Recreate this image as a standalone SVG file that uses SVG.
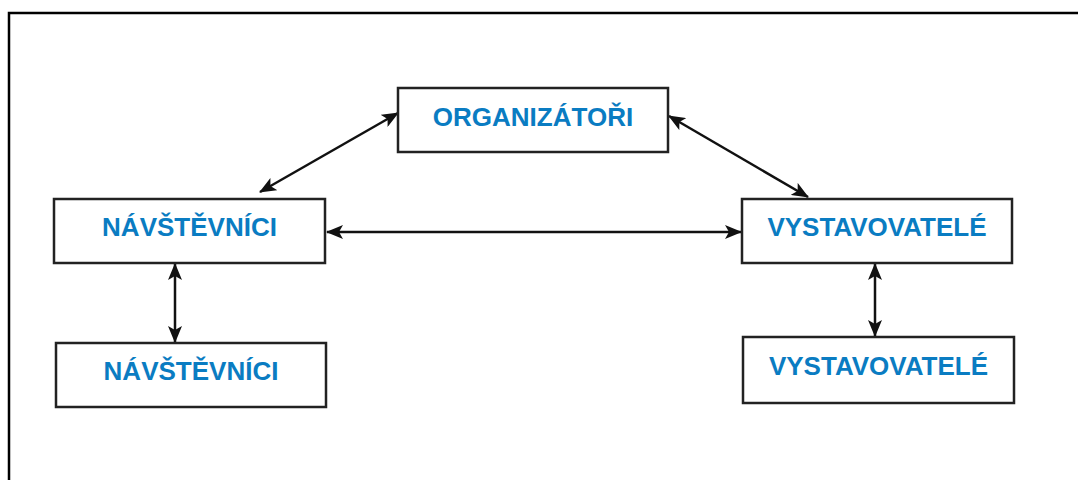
<svg xmlns="http://www.w3.org/2000/svg" width="1078" height="480" viewBox="0 0 1078 480">
<style>
.box{fill:#fff;stroke:#222;stroke-width:2.5}
.lbl{font-family:"Liberation Sans",Arial,sans-serif;font-weight:bold;font-size:26px;fill:#0a7cc2;text-anchor:middle}
.con{stroke:#111;stroke-width:2.5;fill:none;marker-start:url(#ah);marker-end:url(#ah)}
</style>
<defs>
<marker id="ah" viewBox="0 0 17 14" refX="16" refY="7" markerWidth="17" markerHeight="14" markerUnits="userSpaceOnUse" orient="auto-start-reverse">
<path d="M0,0 L17,7 L0,14 L4,7 Z" fill="#111"/>
</marker>
</defs>
<rect x="0" y="0" width="1078" height="480" fill="#fff"/>
<path d="M9,480 V13 H1078" fill="none" stroke="#000" stroke-width="2.5"/>
<g id="connectors">
<line class="con" x1="260" y1="192" x2="398" y2="113"/>
<line class="con" x1="669" y1="116" x2="808" y2="197"/>
<line class="con" x1="327" y1="232" x2="741" y2="232"/>
<line class="con" x1="175" y1="264" x2="175" y2="342"/>
<line class="con" x1="875" y1="264" x2="875" y2="336"/>
</g>
<g id="organizatori">
<rect class="box" x="398" y="88" width="270" height="64"/>
<text class="lbl" x="533" y="126">ORGANIZÁTOŘI</text>
</g>
<g id="navstevnici1">
<rect class="box" x="54" y="199" width="271" height="64"/>
<text class="lbl" x="189.5" y="236">NÁVŠTĚVNÍCI</text>
</g>
<g id="vystavovatele1">
<rect class="box" x="742" y="199" width="270" height="64"/>
<text class="lbl" x="877" y="236">VYSTAVOVATELÉ</text>
</g>
<g id="navstevnici2">
<rect class="box" x="56" y="343" width="270" height="64"/>
<text class="lbl" x="191" y="380">NÁVŠTĚVNÍCI</text>
</g>
<g id="vystavovatele2">
<rect class="box" x="743" y="337" width="271" height="66"/>
<text class="lbl" x="878.5" y="375">VYSTAVOVATELÉ</text>
</g>
</svg>
